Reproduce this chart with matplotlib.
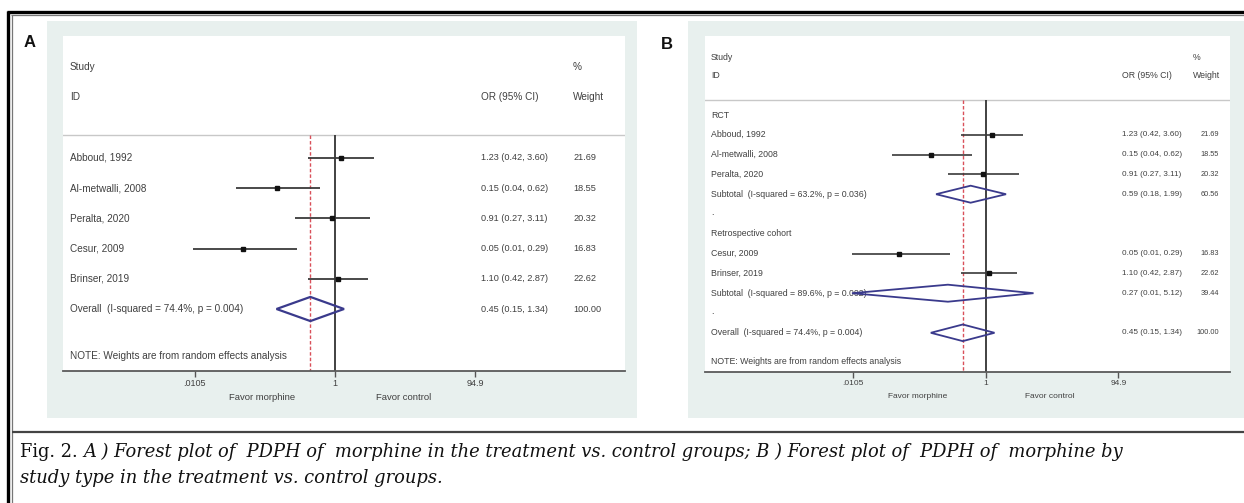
import matplotlib
matplotlib.use("Agg")
import matplotlib.pyplot as plt
from matplotlib.patches import Rectangle, Polygon
from matplotlib.transforms import blended_transform_factory

# ---------------- data ----------------
studies = ["Abboud, 1992", "Al-metwalli, 2008", "Peralta, 2020", "Cesur, 2009", "Brinser, 2019"]
study_type = ["RCT", "RCT", "RCT", "Retrospective cohort", "Retrospective cohort"]
or_est = [1.23, 0.15, 0.91, 0.05, 1.10]
or_lo = [0.42, 0.04, 0.27, 0.01, 0.42]
or_hi = [3.60, 0.62, 3.11, 0.29, 2.87]
weights = [21.69, 18.55, 20.32, 16.83, 22.62]

groups = ["RCT", "Retrospective cohort"]
sub_est = [0.59, 0.27]
sub_lo = [0.18, 0.01]
sub_hi = [1.99, 5.12]
sub_w = [60.56, 39.44]
sub_i2 = ["63.2%", "89.6%"]
sub_p = ["0.036", "0.002"]

overall_est, overall_lo, overall_hi, overall_w = 0.45, 0.15, 1.34, 100.00
overall_i2, overall_p = "74.4%", "0.004"

xticks = [0.0105, 1, 94.9]
xticklabels = [".0105", "1", "94.9"]

caption_fig = "Fig. 2. "
caption_1 = "A ) Forest plot of  PDPH of  morphine in the treatment vs. control groups; B ) Forest plot of  PDPH of  morphine by"
caption_2 = "study type in the treatment vs. control groups."

# ---------------- layout ----------------
W, H = 1244, 503
fig = plt.figure(figsize=(W / 100, H / 100), dpi=100)
fig.patch.set_facecolor("white")

SANS = "Liberation Sans"
TXT = "#404040"
BG = "#e8f0ee"
DIAM = "#3a3a8c"
REFRED = "#d9505a"

base = fig.add_axes([0, 0, 1, 1], zorder=0)
base.set_xlim(0, W)
base.set_ylim(H, 0)
base.axis("off")

# outer frame
base.plot([7, W], [11.5, 11.5], color="black", lw=2.4, solid_capstyle="butt")
base.plot([11, W], [14.8, 14.8], color="#777777", lw=0.9, solid_capstyle="butt")
base.plot([8, 8], [11, H], color="black", lw=2.4, solid_capstyle="butt")
base.plot([11.8, 11.8], [14.5, H], color="#777777", lw=0.9, solid_capstyle="butt")
base.plot([11.8, W], [431.5, 431.5], color="#444444", lw=1.6, solid_capstyle="butt")

# panel backgrounds
base.add_patch(Rectangle((47, 21), 637 - 47, 418 - 21, facecolor=BG, edgecolor="none"))
base.add_patch(Rectangle((688, 21), W - 688, 418 - 21, facecolor=BG, edgecolor="none"))

base.text(30, 42, "A", fontsize=12, fontweight="bold", family=SANS, ha="center", va="center", color="#111")
base.text(667, 44, "B", fontsize=12, fontweight="bold", family=SANS, ha="center", va="center", color="#111")


def rect(x0, y0, x1, y1):
    return [x0 / W, 1 - y1 / H, (x1 - x0) / W, (y1 - y0) / H]


def make_axes(px, row0_y, row_step, one_px, px_per_dec):
    x0, y0, x1, y1 = px
    ax = fig.add_axes(rect(x0, y0, x1, y1), zorder=1)
    ax.set_facecolor("white")
    ax.set_xscale("log")
    ax.set_xlim(10 ** ((x0 - one_px) / px_per_dec), 10 ** ((x1 - one_px) / px_per_dec))
    ax.set_ylim((y1 - row0_y) / row_step, (y0 - row0_y) / row_step)
    for s in ["top", "left", "right"]:
        ax.spines[s].set_visible(False)
    ax.spines["bottom"].set_color("#5a5a5a")
    ax.spines["bottom"].set_linewidth(1.3)
    ax.set_yticks([])
    ax.set_xticks(xticks)
    ax.set_xticklabels(xticklabels)
    ax.xaxis.set_minor_locator(matplotlib.ticker.NullLocator())
    ax.tick_params(axis="x", length=4, width=1, color="#555", labelcolor=TXT, pad=2)
    return ax


def fx(px, x0, x1):
    return (px - x0) / (x1 - x0)


def diamond(ax, est, lo, hi, y, h, lw):
    ax.add_patch(Polygon([(lo, y), (est, y - h), (hi, y), (est, y + h)], closed=True,
                         facecolor="none", edgecolor=DIAM, lw=lw, zorder=4))


# ================= Panel A =================
pxA = (63, 36, 625, 371)
axA = make_axes(pxA, 158, 30.2, 335, 71)
for lab in axA.get_xticklabels():
    lab.set_fontsize(6.5)
    lab.set_family(SANS)
trA = blended_transform_factory(axA.transAxes, axA.transData)
lxA, orxA, wxA = fx(70, 63, 625), fx(481, 63, 625), fx(573, 63, 625)
hdr1, hdr2, hline = (67 - 158) / 30.2, (97 - 158) / 30.2, (135 - 158) / 30.2

kwA = dict(transform=trA, va="center", color=TXT, family=SANS)
axA.text(lxA, hdr1, "Study", fontsize=7.2, **kwA)
axA.text(lxA, hdr2, "ID", fontsize=7.2, **kwA)
axA.text(orxA, hdr2, "OR (95% CI)", fontsize=7.2, **kwA)
axA.text(wxA, hdr1, "%", fontsize=7.2, **kwA)
axA.text(wxA, hdr2, "Weight", fontsize=7.2, **kwA)
axA.axhline(hline, color="#c8c8c8", lw=1)

n = len(studies)
ybot = axA.get_ylim()[0]
axA.vlines(1, hline, ybot, color="#333333", lw=1.3, zorder=2)
axA.vlines(overall_est, hline, ybot, color=REFRED, lw=1.0, linestyles=(0, (2.5, 1.5)), zorder=2)
for i in range(n):
    axA.hlines(i, or_lo[i], or_hi[i], color="#3a3a3a", lw=1.3, zorder=3)
    axA.plot(or_est[i], i, marker="s", ms=3.2, color="#111", zorder=4)
    axA.text(lxA, i, studies[i], fontsize=7.2, **kwA)
    axA.text(orxA, i, f"{or_est[i]:.2f} ({or_lo[i]:.2f}, {or_hi[i]:.2f})", fontsize=6.6, **kwA)
    axA.text(wxA, i, f"{weights[i]:.2f}", fontsize=6.6, **kwA)
yo = n
diamond(axA, overall_est, overall_lo, overall_hi, yo, 0.4, 1.6)
axA.text(lxA, yo, f"Overall  (I-squared = {overall_i2}, p = {overall_p})", fontsize=7.2, **kwA)
axA.text(orxA, yo, f"{overall_est:.2f} ({overall_lo:.2f}, {overall_hi:.2f})", fontsize=6.6, **kwA)
axA.text(wxA, yo, f"{overall_w:.2f}", fontsize=6.6, **kwA)
axA.text(lxA, (356 - 158) / 30.2, "NOTE: Weights are from random effects analysis", fontsize=7.2, **kwA)

trAx = blended_transform_factory(axA.transData, axA.transAxes)
axA.text(0.095, -(397 - 371) / (371 - 36), "Favor morphine", transform=trAx, ha="center", va="center",
         fontsize=6.8, color=TXT, family=SANS)
axA.text(9.3, -(397 - 371) / (371 - 36), "Favor control", transform=trAx, ha="center", va="center",
         fontsize=6.8, color=TXT, family=SANS)

# ================= Panel B =================
pxB = (705, 36, 1230, 372)
axB = make_axes(pxB, 115, 19.8, 986, 67)
for lab in axB.get_xticklabels():
    lab.set_fontsize(6.0)
    lab.set_family(SANS)
trB = blended_transform_factory(axB.transAxes, axB.transData)
lxB, orxB, wxB, wrB = fx(711, 705, 1230), fx(1122, 705, 1230), fx(1193, 705, 1230), fx(1219, 705, 1230)
hdr1B, hdr2B, hlineB = (57 - 115) / 19.8, (76 - 115) / 19.8, (100 - 115) / 19.8
kwB = dict(transform=trB, va="center", color=TXT, family=SANS)
fsB = 6.3
axB.text(lxB, hdr1B, "Study", fontsize=fsB, **kwB)
axB.text(lxB, hdr2B, "ID", fontsize=fsB, **kwB)
axB.text(orxB, hdr2B, "OR (95% CI)", fontsize=fsB, **kwB)
axB.text(wxB, hdr1B, "%", fontsize=fsB, **kwB)
axB.text(wxB, hdr2B, "Weight", fontsize=fsB, **kwB)
axB.axhline(hlineB, color="#c8c8c8", lw=1)

ybotB = axB.get_ylim()[0]
axB.vlines(1, hlineB, ybotB, color="#333333", lw=1.3, zorder=2)
axB.vlines(overall_est, hlineB, ybotB, color=REFRED, lw=1.0, linestyles=(0, (2.5, 1.5)), zorder=2)

row = 0
for g, grp in enumerate(groups):
    axB.text(lxB, row, grp, fontsize=fsB, **kwB)
    row += 1
    for i in range(n):
        if study_type[i] != grp:
            continue
        axB.hlines(row, or_lo[i], or_hi[i], color="#3a3a3a", lw=1.2, zorder=3)
        axB.plot(or_est[i], row, marker="s", ms=2.8, color="#111", zorder=4)
        axB.text(lxB, row, studies[i], fontsize=fsB, **kwB)
        axB.text(orxB, row, f"{or_est[i]:.2f} ({or_lo[i]:.2f}, {or_hi[i]:.2f})", fontsize=5.9, **kwB)
        axB.text(wrB, row, f"{weights[i]:.2f}", fontsize=5.3, ha="right", **kwB)
        row += 1
    diamond(axB, sub_est[g], sub_lo[g], sub_hi[g], row, 0.43, 1.3)
    axB.text(lxB, row, f"Subtotal  (I-squared = {sub_i2[g]}, p = {sub_p[g]})", fontsize=fsB, zorder=2, **kwB)
    axB.text(orxB, row, f"{sub_est[g]:.2f} ({sub_lo[g]:.2f}, {sub_hi[g]:.2f})", fontsize=5.9, **kwB)
    axB.text(wrB, row, f"{sub_w[g]:.2f}", fontsize=5.3, ha="right", **kwB)
    row += 1
    axB.text(lxB, row - 0.1, ".", fontsize=fsB, **kwB)
    row += 1
diamond(axB, overall_est, overall_lo, overall_hi, row, 0.42, 1.3)
axB.text(lxB, row, f"Overall  (I-squared = {overall_i2}, p = {overall_p})", fontsize=fsB, **kwB)
axB.text(orxB, row, f"{overall_est:.2f} ({overall_lo:.2f}, {overall_hi:.2f})", fontsize=5.9, **kwB)
axB.text(wrB, row, f"{overall_w:.2f}", fontsize=5.3, ha="right", **kwB)
axB.text(lxB, (362 - 115) / 19.8, "NOTE: Weights are from random effects analysis", fontsize=fsB, **kwB)

trBx = blended_transform_factory(axB.transData, axB.transAxes)
axB.text(0.095, -(397 - 372) / (372 - 36), "Favor morphine", transform=trBx, ha="center", va="center",
         fontsize=6.0, color=TXT, family=SANS)
axB.text(9.0, -(397 - 372) / (372 - 36), "Favor control", transform=trBx, ha="center", va="center",
         fontsize=6.0, color=TXT, family=SANS)

# ================= Caption =================
CAP = 12.9
t0 = base.text(20, 452, caption_fig, fontsize=CAP, family="DejaVu Serif", va="center", ha="left", color="#111")
fig.canvas.draw()
r = fig.canvas.get_renderer()
bb = t0.get_window_extent(r)
base.text(bb.x1, 452, caption_1, fontsize=CAP, family="DejaVu Serif", style="italic", va="center", ha="left",
          color="#111")
base.text(20, 478, caption_2, fontsize=CAP, family="DejaVu Serif", style="italic", va="center", ha="left",
          color="#111")

fig.savefig("out.png", dpi=100, facecolor="white")
